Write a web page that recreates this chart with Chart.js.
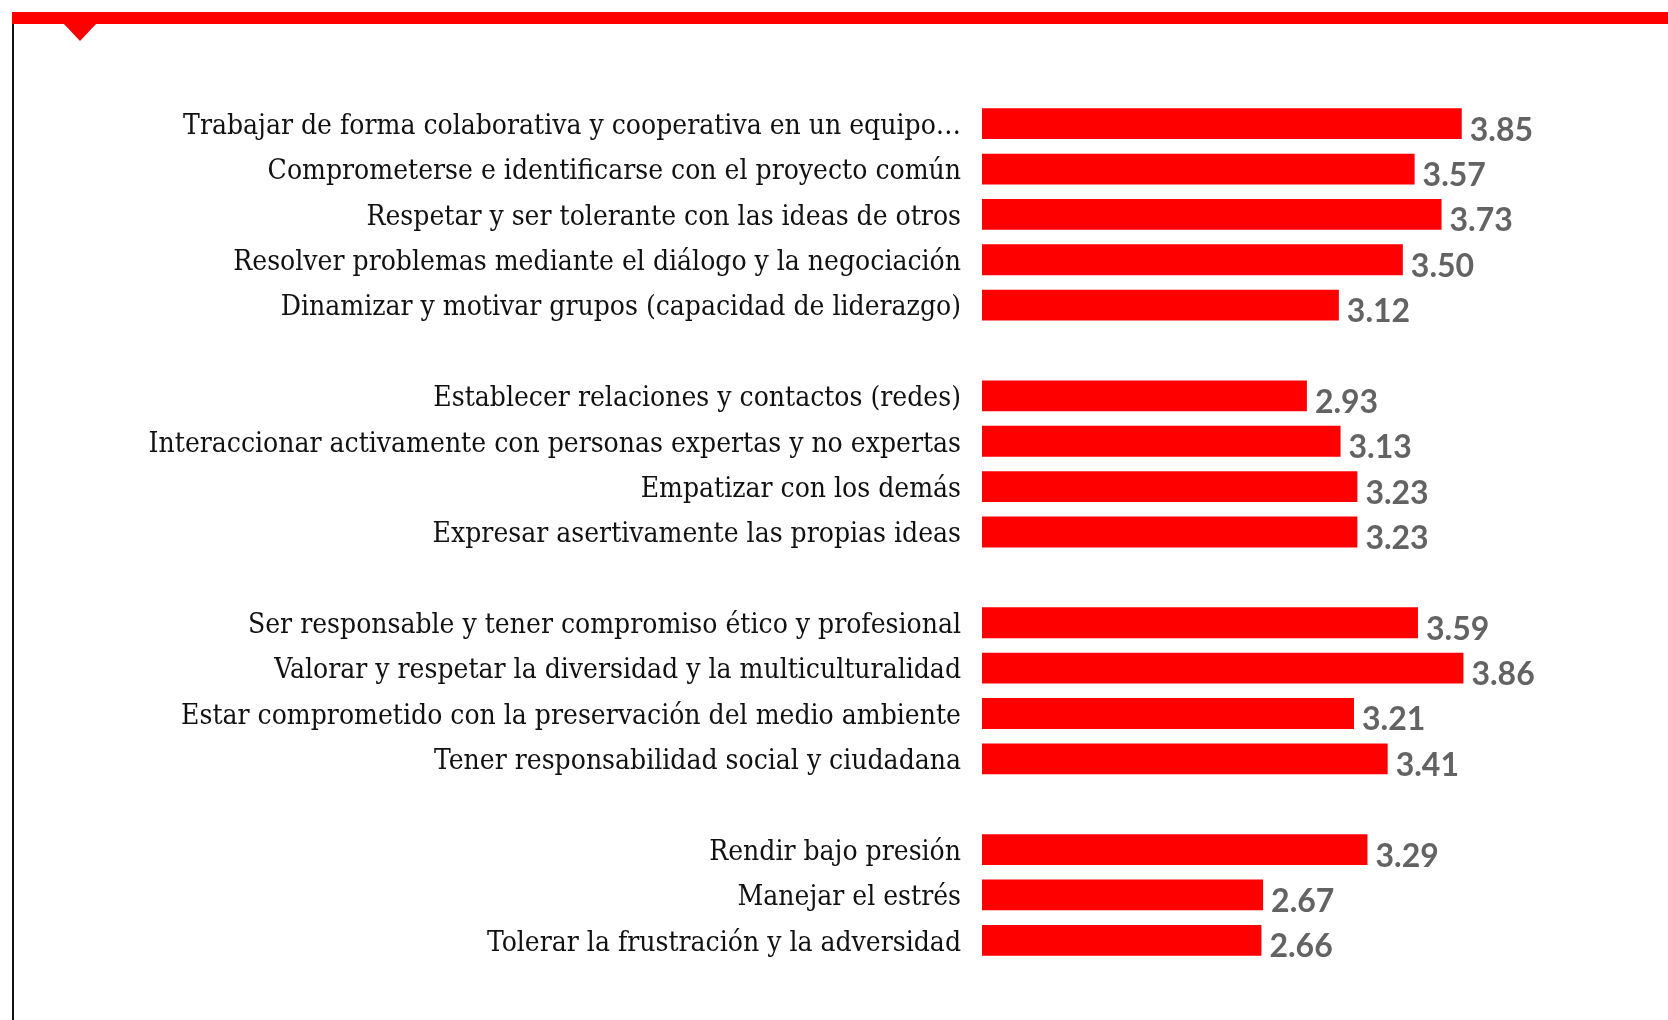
<!DOCTYPE html>
<html>
<head>
<meta charset="utf-8">
<script src="https://cdn.jsdelivr.net/npm/chart.js@4.4.1/dist/chart.umd.min.js"></script>
<style>
  html, body { margin: 0; padding: 0; background: #ffffff; }
  #wrap { position: relative; width: 1668px; height: 1020px; overflow: hidden; background: #fff; }
  #c { position: absolute; left: 0; top: 0; }
  #band { position: absolute; left: 12px; top: 12px; width: 1656px; height: 12px; background: #ff0000; }
  #tri { position: absolute; left: 63px; top: 23px; width: 0; height: 0;
         border-left: 17px solid transparent; border-right: 17px solid transparent; border-top: 18px solid #ff0000; }
  #vline { position: absolute; left: 12px; top: 24px; width: 2px; height: 996px; background: #111; }
</style>
</head>
<body>
<div id="wrap">
  <canvas id="c" width="1668" height="1020"></canvas>
  <div id="band"></div>
  <div id="tri"></div>
  <div id="vline"></div>
</div>
<script>
// ---- Data ----
const group1Labels = [
  "Trabajar de forma colaborativa y cooperativa en un equipo…",
  "Comprometerse e identificarse con el proyecto común",
  "Respetar y ser tolerante con las ideas de otros",
  "Resolver problemas mediante el diálogo y la negociación",
  "Dinamizar y motivar grupos (capacidad de liderazgo)"
];
const group1Values = [3.85, 3.57, 3.73, 3.50, 3.12];

const group2Labels = [
  "Establecer relaciones y contactos (redes)",
  "Interaccionar activamente con personas expertas y no expertas",
  "Empatizar con los demás",
  "Expresar asertivamente las propias ideas"
];
const group2Values = [2.93, 3.13, 3.23, 3.23];

const group3Labels = [
  "Ser responsable y tener compromiso ético y profesional",
  "Valorar y respetar la diversidad y la multiculturalidad",
  "Estar comprometido con la preservación del medio ambiente",
  "Tener responsabilidad social y ciudadana"
];
const group3Values = [3.59, 3.86, 3.21, 3.41];

const group4Labels = [
  "Rendir bajo presión",
  "Manejar el estrés",
  "Tolerar la frustración y la adversidad"
];
const group4Values = [3.29, 2.67, 2.66];

const axisMin = 1;
const axisMax = 4;

// ---- Build combined table with spacer rows between groups ----
const groupsL = [group1Labels, group2Labels, group3Labels, group4Labels];
const groupsV = [group1Values, group2Values, group3Values, group4Values];
const labels = [];
const values = [];
groupsL.forEach((g, i) => {
  if (i > 0) { labels.push(''); values.push(null); }
  g.forEach((l, j) => { labels.push(l); values.push(groupsV[i][j]); });
});

// ---- Font choice / fitting for category labels ----
const mctx = document.createElement('canvas').getContext('2d');
function w(font, t) { mctx.font = font; return mctx.measureText(t).width; }
const probe = 'Interaccionar activamente 0123';
const hasCond = w('100px "DejaVu Serif Condensed", monospace', probe) !== w('100px monospace', probe);
const labelFamily = hasCond ? '"DejaVu Serif Condensed", "DejaVu Serif", serif' : '"DejaVu Serif", "Liberation Serif", serif';
const refW = w('100px ' + labelFamily, group2Labels[1]);
const labelSize = Math.min(29, Math.floor(100 * 814 / refW * 10) / 10);

const valueLabels = {
  id: 'valueLabels',
  afterDatasetsDraw(chart) {
    const ctx = chart.ctx;
    const meta = chart.getDatasetMeta(0);
    ctx.save();
    ctx.font = 'bold 32px Lato, "Open Sans", sans-serif';
    ctx.fillStyle = '#636363';
    ctx.textAlign = 'left';
    ctx.textBaseline = 'alphabetic';
    meta.data.forEach((bar, i) => {
      const v = chart.data.datasets[0].data[i];
      if (v === null || v === undefined) return;
      ctx.fillText(v.toFixed(2), bar.x + 8, bar.y + 17);
    });
    ctx.restore();
  }
};

new Chart(document.getElementById('c'), {
  type: 'bar',
  data: {
    labels: labels,
    datasets: [{
      data: values,
      backgroundColor: '#ff0000',
      borderWidth: 0,
      categoryPercentage: 1.0,
      barPercentage: 0.68
    }]
  },
  options: {
    indexAxis: 'y',
    responsive: false,
    animation: false,
    layout: { padding: { left: 0, right: 181, top: 101, bottom: 57 } },
    scales: {
      x: { display: false, min: axisMin, max: axisMax },
      y: {
        grid: { display: false, drawTicks: false },
        border: { display: false },
        ticks: {
          autoSkip: false,
          padding: 21,
          labelOffset: 3,
          color: '#111111',
          font: { family: labelFamily, size: labelSize }
        },
        afterFit(scale) { scale.width = 982; }
      }
    },
    plugins: { legend: { display: false }, tooltip: { enabled: false } }
  },
  plugins: [valueLabels]
});
</script>
</body>
</html>
